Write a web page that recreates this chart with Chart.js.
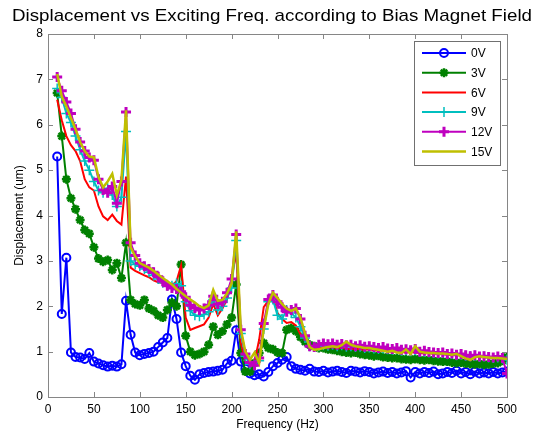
<!DOCTYPE html>
<html>
<head>
<meta charset="utf-8">
<script src="https://cdn.jsdelivr.net/npm/chart.js@4/dist/chart.umd.min.js"></script>
<style>
  html, body { margin: 0; padding: 0; background: #fff; }
  #wrap { width: 543px; height: 438px; }
</style>
</head>
<body>
<div id="wrap"><canvas id="dispChart" width="543" height="438"></canvas></div>
<script>
// tần số kích thích (Hz)
const freq = [
  10, 15, 20, 25, 30, 35, 40, 45, 50, 55,
  60, 65, 70, 75, 80, 85, 90, 95, 100, 105,
  110, 115, 120, 125, 130, 135, 140, 145, 150, 155,
  160, 165, 170, 175, 180, 185, 190, 195, 200, 205,
  210, 215, 220, 225, 230, 235, 240, 245, 250, 255,
  260, 265, 270, 275, 280, 285, 290, 295, 300, 305,
  310, 315, 320, 325, 330, 335, 340, 345, 350, 355,
  360, 365, 370, 375, 380, 385, 390, 395, 400, 405,
  410, 415, 420, 425, 430, 435, 440, 445, 450, 455,
  460, 465, 470, 475, 480, 485, 490, 495, 500
];

// độ dịch chuyển (um) theo từng điện áp
const disp0V = [
  5.30, 1.83, 3.07, 0.98, 0.88, 0.87, 0.84, 0.97, 0.78, 0.74,
  0.70, 0.67, 0.69, 0.67, 0.72, 2.12, 1.37, 0.98, 0.92, 0.95,
  0.97, 1.00, 1.10, 1.20, 1.30, 2.15, 1.72, 0.98, 0.68, 0.47,
  0.38, 0.50, 0.53, 0.55, 0.56, 0.58, 0.60, 0.74, 0.80, 1.47,
  0.78, 0.62, 0.52, 0.48, 0.50, 0.45, 0.55, 0.68, 0.75, 0.82,
  0.88, 0.68, 0.62, 0.60, 0.58, 0.62, 0.56, 0.55, 0.58, 0.54,
  0.56, 0.58, 0.55, 0.53, 0.58, 0.56, 0.54, 0.57, 0.55, 0.52,
  0.54, 0.56, 0.53, 0.55, 0.52, 0.54, 0.57, 0.43, 0.55, 0.52,
  0.55, 0.53, 0.56, 0.50, 0.52, 0.55, 0.53, 0.58, 0.52, 0.55,
  0.50, 0.56, 0.52, 0.54, 0.52, 0.55, 0.52, 0.54, 0.56
];
const disp3V = [
  6.70, 5.75, 4.80, 4.38, 4.14, 3.90, 3.68, 3.60, 3.30, 3.05,
  2.98, 3.02, 2.80, 2.95, 2.62, 3.40, 2.14, 2.05, 2.02, 2.14,
  1.95, 1.90, 1.80, 1.75, 1.92, 2.08, 2.00, 2.92, 1.35, 1.00,
  0.92, 0.95, 1.00, 1.15, 1.55, 1.37, 1.45, 1.60, 1.75, 2.48,
  0.97, 0.56, 0.56, 0.75, 0.97, 1.19, 1.08, 1.05, 0.98, 0.97,
  1.48, 1.52, 1.45, 1.32, 1.22, 1.15, 1.12, 1.08, 1.08, 1.05,
  1.04, 1.02, 1.00, 0.98, 0.97, 0.98, 0.95, 0.93, 0.92, 0.90,
  0.91, 0.88, 0.87, 0.86, 0.86, 0.84, 0.83, 0.82, 0.84, 0.82,
  0.81, 0.82, 0.80, 0.79, 0.78, 0.78, 0.76, 0.75, 0.76, 0.74,
  0.73, 0.72, 0.73, 0.71, 0.72, 0.74, 0.75, 0.80, 0.88
];
const disp6V = [
  6.55, 6.10, 5.75, 5.55, 5.42, 5.20, 4.80, 4.62, 4.55, 4.20,
  3.98, 3.90, 4.02, 3.88, 3.80, 4.86, 2.85, 2.78, 2.73, 2.68,
  2.64, 2.57, 2.53, 2.51, 2.50, 2.45, 2.55, 2.90, 1.75, 1.48,
  1.52, 1.56, 1.60, 1.75, 2.05, 1.80, 1.95, 2.15, 2.60, 3.20,
  1.20, 0.78, 0.75, 0.78, 1.26, 1.98, 2.12, 2.20, 1.85, 1.72,
  1.63, 1.65, 1.58, 1.38, 1.28, 1.15, 1.10, 1.08, 1.10, 1.09,
  1.10, 1.08, 1.09, 1.07, 1.06, 1.07, 1.05, 1.04, 1.05, 1.03,
  1.02, 1.03, 1.01, 1.00, 1.01, 0.99, 0.98, 0.99, 0.98, 0.97,
  0.96, 0.97, 0.95, 0.94, 0.95, 0.93, 0.92, 0.93, 0.91, 0.90,
  0.89, 0.90, 0.88, 0.87, 0.88, 0.86, 0.86, 0.85, 0.84
];
const disp9V = [
  6.80, 6.60, 6.25, 6.05, 5.75, 5.45, 5.20, 5.00, 4.75, 4.55,
  4.50, 4.60, 4.45, 4.20, 4.40, 5.85, 3.00, 2.92, 2.88, 2.82,
  2.75, 2.68, 2.60, 2.52, 2.45, 2.45, 2.50, 2.45, 2.10, 1.90,
  1.80, 1.78, 1.82, 1.88, 2.15, 1.92, 2.00, 2.18, 2.40, 3.45,
  1.40, 0.90, 0.72, 0.70, 0.80, 1.50, 2.10, 2.15, 1.80, 1.72,
  1.92, 1.85, 1.75, 1.55, 1.30, 1.12, 1.10, 1.12, 1.14, 1.13,
  1.15, 1.12, 1.14, 1.11, 1.12, 1.10, 1.11, 1.08, 1.09, 1.07,
  1.06, 1.07, 1.05, 1.04, 1.05, 1.02, 1.03, 1.01, 1.03, 0.99,
  1.00, 0.98, 0.97, 0.96, 0.97, 0.94, 0.95, 0.92, 0.93, 0.91,
  0.90, 0.91, 0.88, 0.89, 0.87, 0.86, 0.87, 0.85, 0.82
];
const disp12V = [
  7.05, 6.75, 6.50, 6.25, 5.90, 5.62, 5.42, 5.28, 5.22, 4.80,
  4.56, 4.50, 4.64, 4.27, 4.75, 6.28, 3.40, 3.12, 2.95, 2.88,
  2.82, 2.75, 2.65, 2.55, 2.45, 2.40, 2.38, 2.32, 2.20, 2.02,
  1.96, 1.92, 1.95, 2.02, 2.22, 2.05, 2.10, 2.30, 2.60, 3.58,
  1.48, 0.95, 0.76, 0.70, 0.86, 1.62, 2.15, 2.25, 2.10, 1.98,
  1.88, 1.92, 1.95, 1.72, 1.35, 1.12, 1.10, 1.15, 1.18, 1.16,
  1.18, 1.15, 1.17, 1.14, 1.15, 1.12, 1.14, 1.11, 1.12, 1.10,
  1.08, 1.10, 1.07, 1.06, 1.08, 1.04, 1.05, 1.03, 1.06, 1.00,
  1.02, 0.99, 0.98, 0.97, 0.98, 0.95, 0.96, 0.93, 0.95, 0.92,
  0.90, 0.92, 0.89, 0.90, 0.88, 0.87, 0.89, 0.86, 0.52
];
const disp15V = [
  7.12, 6.62, 6.40, 6.15, 5.90, 5.62, 5.42, 5.30, 5.28, 4.85,
  4.62, 4.75, 4.92, 4.45, 4.78, 6.32, 3.30, 3.10, 2.95, 2.90,
  2.85, 2.78, 2.70, 2.62, 2.55, 2.48, 2.38, 2.30, 2.22, 2.15,
  2.08, 2.00, 1.96, 2.02, 2.36, 2.12, 2.14, 2.28, 2.50, 3.65,
  1.50, 1.00, 0.82, 0.98, 0.75, 1.50, 2.05, 2.30, 2.18, 2.05,
  1.95, 1.90, 1.95, 1.75, 1.40, 1.10, 1.04, 1.05, 1.08, 1.10,
  1.12, 1.10, 1.14, 1.22, 1.15, 1.12, 1.10, 1.08, 1.08, 1.06,
  1.04, 1.02, 1.00, 1.02, 0.98, 0.97, 1.05, 0.95, 1.12, 1.00,
  0.98, 0.97, 0.97, 0.96, 0.96, 0.95, 0.93, 0.95, 0.90, 0.85,
  0.82, 0.88, 0.90, 0.88, 0.87, 0.86, 0.86, 0.85, 0.84
];

const seriesNames = ['0V', '3V', '6V', '9V', '12V', '15V'];
const xTicks = [0, 50, 100, 150, 200, 250, 300, 350, 400, 450, 500];
const yTicks = [0, 1, 2, 3, 4, 5, 6, 7, 8];
const chartTitle = 'Displacement vs Exciting Freq. according to Bias Magnet Field';

const FONT = '"Liberation Sans", Arial, Helvetica, sans-serif';
const AXIS_GREY = '#868686';

function toPoints(values) {
    return freq.map((f, i) => ({ x: f, y: values[i] }));
}

// kiểu đường cho từng điện áp (giống hình MATLAB)
const styles = [
    { color: '#0000ff', pointStyle: 'circle', radius: 4, pointWidth: 2 },
    { color: '#008000', pointStyle: 'star', radius: 4.5, pointWidth: 2.5 },
    { color: '#ff0000', pointStyle: false, radius: 0, pointWidth: 0 },
    { color: '#00bfbf', pointStyle: 'cross', radius: 5, pointWidth: 1.5 },
    { color: '#bf00bf', pointStyle: 'cross', radius: 5, pointWidth: 3 },
    { color: '#bfbf00', pointStyle: false, radius: 0, pointWidth: 0 }
];
const allValues = [disp0V, disp3V, disp6V, disp9V, disp12V, disp15V];

const datasets = allValues.map((vals, i) => ({
    label: seriesNames[i],
    data: toPoints(vals),
    borderColor: styles[i].color,
    backgroundColor: styles[i].color,
    borderWidth: i === 5 ? 2.5 : 2,
    pointStyle: styles[i].pointStyle || 'circle',
    pointRadius: styles[i].radius,
    pointBorderWidth: styles[i].pointWidth,
    pointBorderColor: styles[i].color,
    pointBackgroundColor: i === 0 ? 'rgba(0,0,0,0)' : styles[i].color,
    tension: 0,
    order: 5 - i // 15V nằm trên cùng
}));

// tiêu đề, khung trục, vạch chia hướng vào trong và chú thích kiểu MATLAB
const matlabFrame = {
    id: 'matlabFrame',
    afterDraw(chart) {
        const ctx = chart.ctx;
        const a = chart.chartArea;
        const xs = chart.scales.x;
        const ys = chart.scales.y;
        ctx.save();

        // tiêu đề: hơi giãn ngang cho giống bản gốc (rộng ~520px)
        ctx.fillStyle = '#000';
        ctx.font = '17px ' + FONT;
        ctx.textAlign = 'left';
        ctx.textBaseline = 'alphabetic';
        const tw = ctx.measureText(chartTitle).width;
        ctx.save();
        ctx.translate(12, 21);
        ctx.scale(520 / tw, 1);
        ctx.fillText(chartTitle, 0, 0);
        ctx.restore();

        ctx.strokeStyle = AXIS_GREY;
        ctx.lineWidth = 1;
        ctx.beginPath();
        xTicks.forEach(t => {
            const px = Math.round(xs.getPixelForValue(t)) + 0.5;
            ctx.moveTo(px, a.bottom); ctx.lineTo(px, a.bottom - 5);
            ctx.moveTo(px, a.top); ctx.lineTo(px, a.top + 5);
        });
        yTicks.forEach(t => {
            const py = Math.round(ys.getPixelForValue(t)) + 0.5;
            ctx.moveTo(a.left, py); ctx.lineTo(a.left + 5, py);
            ctx.moveTo(a.right, py); ctx.lineTo(a.right - 5, py);
        });
        ctx.stroke();
        ctx.strokeRect(Math.round(a.left) + 0.5, Math.round(a.top) + 0.5,
            Math.round(a.right - a.left), Math.round(a.bottom - a.top));

        // hộp chú thích
        const bx = 414.5, by = 41.5, bw = 86, bh = 124;
        ctx.fillStyle = '#ffffff';
        ctx.fillRect(bx, by, bw, bh);
        ctx.strokeStyle = '#707070';
        ctx.strokeRect(bx, by, bw, bh);
        ctx.font = '12px ' + FONT;
        ctx.textBaseline = 'middle';
        chart.data.datasets.forEach((ds, i) => {
            const cy = 53 + i * 19.7;
            ctx.strokeStyle = ds.borderColor;
            ctx.lineWidth = ds.borderWidth;
            ctx.beginPath();
            ctx.moveTo(422, cy); ctx.lineTo(466, cy);
            ctx.stroke();
            if (ds.pointRadius > 0) {
                ctx.fillStyle = ds.pointBackgroundColor;
                ctx.lineWidth = ds.pointBorderWidth;
                Chart.helpers.drawPoint(ctx, {
                    pointStyle: ds.pointStyle,
                    radius: ds.pointRadius,
                    rotation: 0,
                    borderWidth: ds.pointBorderWidth
                }, 444, cy);
            }
            ctx.fillStyle = '#000';
            ctx.fillText(ds.label, 471, cy + 1);
        });
        ctx.restore();
    }
};

const ctx = document.getElementById('dispChart').getContext('2d');
new Chart(ctx, {
    type: 'line',
    data: { datasets: datasets },
    plugins: [matlabFrame],
    options: {
        responsive: false,
        animation: false,
        layout: { padding: { left: 0, right: 36, top: 34, bottom: 0 } },
        scales: {
            x: {
                type: 'linear',
                min: 0,
                max: 500,
                afterBuildTicks: s => { s.ticks = xTicks.map(v => ({ value: v })); },
                afterFit: s => { s.height = 41; },
                grid: { display: false, drawTicks: false },
                border: { display: false },
                ticks: { color: '#000', padding: 5, maxRotation: 0, font: { size: 12, family: FONT } },
                title: {
                    display: true,
                    text: 'Frequency (Hz)',
                    color: '#000',
                    font: { size: 12, family: FONT },
                    padding: { top: 0, bottom: 6 }
                }
            },
            y: {
                min: 0,
                max: 8,
                afterBuildTicks: s => { s.ticks = yTicks.map(v => ({ value: v })); },
                afterFit: s => { s.width = 48; },
                grid: { display: false, drawTicks: false },
                border: { display: false },
                ticks: { color: '#000', padding: 5, font: { size: 12, family: FONT } },
                title: {
                    display: true,
                    text: 'Displacement (um)',
                    color: '#000',
                    font: { size: 12, family: FONT },
                    padding: { top: 12, bottom: 0 }
                }
            }
        },
        plugins: {
            legend: { display: false },
            tooltip: { enabled: false },
            title: { display: false }
        }
    }
});
</script>
</body>
</html>
